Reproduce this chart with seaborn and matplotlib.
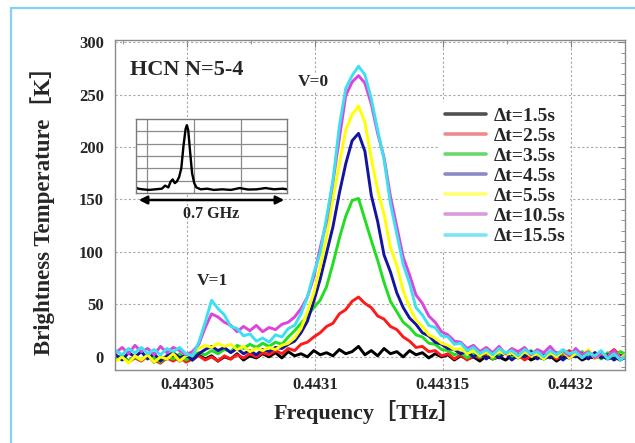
import numpy as np
import pandas as pd
import matplotlib
matplotlib.use("Agg")
import matplotlib.pyplot as plt
import seaborn as sns
from matplotlib.lines import Line2D
from matplotlib.patches import Rectangle
from matplotlib.ticker import FixedLocator, MultipleLocator, FuncFormatter

# ---------------- data ----------------
# frequency offsets from 0.4431 THz, in MHz (sampling grid)
offset_mhz = np.linspace(-78, 122, 81)
freq_thz = 0.4431 + offset_mhz * 1e-6

labels = ["Δt=1.5s", "Δt=2.5s", "Δt=3.5s", "Δt=4.5s", "Δt=5.5s", "Δt=10.5s", "Δt=15.5s"]

t_1p5 = [-2, 1, -4, 0, -3, 2, -5, 0, -2, 1, -4, 0, -3, 2, -2, 1, -4, 0, -2, 3,
         -3, 1, -1, 3, 0, 4, -1, 5, 1, 3, 0, 6, 2, 4, 1, 7, 3, 5, 10, 2,
         6, 1, 8, 3, 5, 0, 6, 2, 4, -1, 3, 0, 2, -3, 1, -2, 0, -4, 1, -2,
         0, -3, 1, -1, 2, -3, 0, -2, 1, -4, 0, -1, 2, -3, 0, -1, 1, -2, 0, -3, 1]
t_2p5 = [-3, 0, -5, -1, -4, 1, -3, -6, -1, -4, 0, -5, -2, 1, -3, 0, -4, 1, -2, 2,
         -1, 3, 0, 4, 2, 6, 3, 8, 6, 12, 14, 19, 23, 29, 32, 41, 45, 53, 57, 51,
         47, 39, 36, 29, 26, 19, 15, 9, 10, 5, 6, 1, 3, -2, 2, -3, 1, -1, 3, -2,
         1, 4, -1, 2, -3, 1, 5, 0, 3, -2, 2, 6, 1, 3, -1, 4, 0, 2, 7, 1, 3]
t_3p5 = [-2, 1, -4, 0, -3, 2, -1, -5, 0, -2, 3, -3, 1, 4, 2, 6, 3, 7, 5, 11,
         8, 12, 9, 13, 10, 14, 12, 19, 25, 32, 39, 47, 54, 67, 89, 113, 134, 149, 151, 131,
         111, 92, 71, 53, 43, 33, 28, 21, 19, 13, 12, 7, 6, 2, 4, -1, 3, 0, 5, -2,
         2, 4, -1, 3, 0, 6, 1, -2, 3, 0, 4, -1, 2, 5, 0, 3, -2, 4, 1, 5, 2]
t_4p5 = [2, -3, 4, 0, 5, -2, 3, -4, 1, 4, -1, 2, -3, 3, 7, 10, 6, 9, 4, 8,
         3, 6, 2, 7, 5, 9, 8, 12, 15, 23, 34, 53, 74, 99, 124, 156, 184, 206, 213, 196,
         154, 129, 97, 81, 61, 47, 37, 31, 23, 20, 14, 12, 8, 7, 3, 5, 0, 4, -2, 3,
         -1, 4, -3, 2, 0, 5, -2, 3, -1, 4, -3, 2, 0, 3, -2, 4, -1, 2, -3, 1, -2]
t_5p5 = [-4, 0, -6, 1, -3, 2, -5, 0, -2, 3, -4, 1, 4, 8, 11, 9, 13, 10, 12, 7,
         10, 5, 8, 6, 9, 7, 11, 13, 18, 27, 43, 61, 86, 114, 151, 184, 216, 231, 239, 224,
         189, 159, 136, 104, 87, 63, 47, 35, 29, 21, 18, 13, 11, 7, 8, 3, 6, 1, 5, 0,
         6, 2, 4, -1, 5, 1, 3, -2, 4, 0, 6, -1, 3, 1, 7, -2, 4, 0, 5, -1, 3]
t_10p5 = [4, 9, 3, 11, 5, 8, 2, 10, 4, 9, 6, 2, 5, 12, 28, 41, 38, 33, 30, 24,
          29, 25, 30, 24, 28, 26, 31, 33, 38, 46, 57, 76, 104, 129, 167, 208, 249, 262, 268, 261,
          241, 213, 190, 153, 124, 95, 78, 59, 51, 39, 33, 24, 21, 15, 14, 8, 11, 5, 9, 4,
          10, 3, 8, 5, 9, 2, 7, 4, 10, 3, 6, 1, 8, 2, 5, -1, 4, 0, 6, -2, 1]
t_15p5 = [6, 2, 8, 4, 9, 3, 7, 2, 8, 5, 9, 3, 1, 14, 33, 54, 46, 40, 29, 27,
          20, 22, 15, 18, 14, 21, 19, 27, 30, 41, 57, 80, 99, 133, 168, 220, 256, 268, 277, 269,
          246, 216, 188, 146, 117, 88, 70, 47, 40, 30, 28, 20, 19, 12, 13, 6, 9, 3, 7, 2,
          8, 4, 6, 1, 7, 3, 5, 0, 6, 2, 7, 3, 5, -1, 4, 1, 6, -2, 3, -3, 2]

series_values = [t_1p5, t_2p5, t_3p5, t_4p5, t_5p5, t_10p5, t_15p5]

# inset overview spectrum (0.7 GHz span)
inset_x = [0.00, 0.01, 0.03, 0.06, 0.09, 0.12, 0.135, 0.15, 0.16, 0.17, 0.18, 0.19,
           0.20, 0.21, 0.22, 0.23, 0.236, 0.242, 0.25, 0.26, 0.27, 0.28, 0.30, 0.33,
           0.36, 0.40, 0.44, 0.48, 0.52, 0.56, 0.60, 0.64, 0.68, 0.70]
inset_y = [0.45, 0.35, 0.30, 0.25, 0.30, 0.35, 0.60, 0.45, 0.90, 1.10, 0.80, 0.95,
           1.30, 2.00, 3.80, 5.20, 5.50, 5.10, 3.50, 1.60, 0.80, 0.45, 0.30, 0.35,
           0.25, 0.30, 0.25, 0.40, 0.28, 0.30, 0.40, 0.30, 0.35, 0.30]

x_ticks = [0.44305, 0.4431, 0.44315, 0.4432]
y_ticks = [0, 50, 100, 150, 200, 250, 300]

colors = ["#000000", "#ff1a1a", "#22dd22", "#1414a0", "#ffff00", "#dd44dd", "#3ee0f0"]
legend_colors = ["#505050", "#f08a8a", "#6ad86a", "#8a8ac8", "#ffff70", "#d99ad9", "#7ae6f2"]

# ---------------- figure ----------------
sns.set_style("white")
plt.rcParams["font.family"] = ["Liberation Serif", "Noto Sans CJK JP", "DejaVu Sans"]
plt.rcParams["font.weight"] = "bold"

rows = []
for lab, vals in zip(labels, series_values):
    for f, v in zip(freq_thz, vals):
        rows.append((f, v, lab))
df = pd.DataFrame(rows, columns=["freq", "Tb", "series"])

fig = plt.figure(figsize=(6.35, 4.43), dpi=100)
ax = fig.add_axes([115 / 635, 1 - 370 / 443, 510 / 635, 330 / 443])

sns.lineplot(data=df, x="freq", y="Tb", hue="series", hue_order=labels,
             palette=colors, estimator=None, sort=False, lw=2.1, legend=False, ax=ax)

ax.set_xlim(0.4431 - 78.3e-6, 0.4431 + 121.3e-6)
ax.set_ylim(-12.5, 302)
ax.xaxis.set_major_locator(FixedLocator(x_ticks))
ax.xaxis.set_major_formatter(FuncFormatter(lambda v, p: f"{v:g}"))
ax.xaxis.set_minor_locator(MultipleLocator(0.000025))
ax.yaxis.set_major_locator(FixedLocator(y_ticks))
ax.yaxis.set_minor_locator(MultipleLocator(10))
ax.grid(True, which="major", color="#a8a8a8", lw=0.8, ls=(0, (2, 2)))
ax.set_axisbelow(True)
ax.tick_params(which="both", direction="in", top=True, right=True, color="#808080")
ax.tick_params(which="major", length=5, labelsize=12)
ax.tick_params(which="minor", length=3)
ax.tick_params(axis="y", pad=8)
ax.tick_params(axis="x", pad=5)
for s in ax.spines.values():
    s.set_color("#8a8a8a")
    s.set_linewidth(1.0)
for t in ax.get_xticklabels() + ax.get_yticklabels():
    t.set_fontweight("bold")

ax.set_xlabel("Frequency［THz］", fontsize=16, fontweight="bold")
ax.set_ylabel("Brightness Temperature［K］", fontsize=16.5, fontweight="bold")
ax.yaxis.set_label_coords(-0.118, 0.5)
ax.xaxis.set_label_coords(0.494, -0.09)

ax.text(0.4431 - 72.4e-6, 273, "HCN N=5-4", fontsize=16, fontweight="bold",
        ha="left", va="center")
ax.text(0.4431 - 0.8e-6, 262, "V=0", fontsize=12.5, fontweight="bold", ha="center",
        va="center", bbox=dict(facecolor="white", edgecolor="none", pad=0.5))
ax.text(0.4431 - 40e-6, 72, "V=1", fontsize=12.5, fontweight="bold", ha="center",
        va="center", bbox=dict(facecolor="white", edgecolor="none", pad=0.5))

handles = [Line2D([], [], color=c, lw=2.6) for c in legend_colors]
leg = ax.legend(handles, labels, loc="upper left", bbox_to_anchor=(0.637, 0.812),
                frameon=True, framealpha=1, facecolor="white",
                edgecolor="none", borderaxespad=0, borderpad=0.25, handlelength=2.1,
                handletextpad=0.4, labelspacing=0.13, prop={"weight": "bold", "size": 14})
leg.get_frame().set_boxstyle("square", pad=0)

# inset
ins = fig.add_axes([136 / 635, 1 - 193 / 443, 151 / 635, 74 / 443])
sns.lineplot(x=inset_x, y=inset_y, color="black", lw=1.7, ax=ins, estimator=None, sort=False)
ins.set_xlim(0, 0.7)
ins.set_ylim(0, 6)
for gx in [0.051, 0.269, 0.487]:
    ins.axvline(gx, color="#8a8a8a", lw=0.9, zorder=0)
for gy in [1, 2, 3, 4, 5]:
    ins.axhline(gy, color="#8a8a8a", lw=0.9, zorder=0)
ins.set_xticks([])
ins.set_yticks([])
for s in ins.spines.values():
    s.set_color("#7a7a7a")
    s.set_linewidth(1.0)

ax.annotate("", xy=(287, 243), xytext=(136, 243), xycoords="figure pixels",
            textcoords="figure pixels",
            arrowprops=dict(arrowstyle="<|-|>", color="black", lw=1.8, mutation_scale=12))
fig.text(211 / 635, 1 - 214 / 443, "0.7 GHz", fontsize=11.5, fontweight="bold",
         ha="center", va="center")

# light blue frame
fig.add_artist(Rectangle((11 / 635, -0.2), 1.5, 1.2 - 8 / 443, transform=fig.transFigure,
                         fill=False, edgecolor="#86d0f0", lw=1.6))

fig.savefig("out.png", dpi=100)
